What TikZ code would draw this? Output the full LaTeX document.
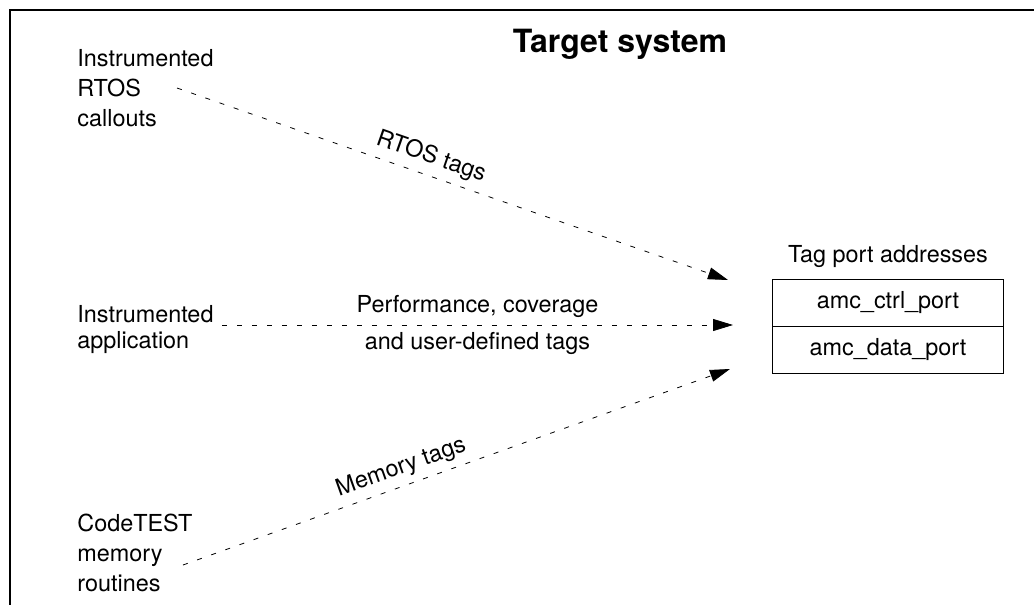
\documentclass[tikz,border=0pt]{standalone}
\usepackage{fontspec}
\setmainfont{TeX Gyre Heros}
\usetikzlibrary{arrows.meta}

\begin{document}
\begin{tikzpicture}[x=0.5pt,y=-0.5pt,
  lbl/.style={font=\fontsize{11.7}{15}\selectfont,align=left,anchor=west,inner sep=0pt},
  port/.style={draw,minimum width=115.5pt,minimum height=23.25pt,inner sep=0pt,font=\fontsize{11.7}{14}\selectfont},
  tag/.style={thin,dash pattern=on 2.5pt off 5pt,-{Triangle[length=10pt,width=6pt]}}]
  \useasboundingbox (0,0) rectangle (1034,605);
  \draw[line width=1pt] (1034,10) -- (10,10) -- (10,605);

  \node[font=\bfseries\fontsize{16}{19}\selectfont] (t) at (620,44) {Target system};

  \node[lbl] (1) at (77,88) {Instrumented\\RTOS\\callouts};
  \node[lbl,font=\fontsize{11.7}{13}\selectfont] (2) at (77,330) {Instrumented\\application};
  \node[lbl] (3) at (77,553) {CodeTEST\\memory\\routines};

  \node[font=\fontsize{11.7}{14}\selectfont] (6) at (888,257) {Tag port addresses};
  \node[port] (4) at (888,303) {amc\_ctrl\_port};
  \node[port] (5) at (888,350) {amc\_data\_port};

  \coordinate (a) at (177,88);
  \coordinate (b) at (728,280);
  \coordinate (c) at (222,325);
  \coordinate (d) at (733,325);
  \coordinate (e) at (183,565);
  \coordinate (f) at (730,369);

  \path[every node/.style={font=\fontsize{11.7}{14}\selectfont}]
  (a) [tag] edge node [above,sloped,pos=0.45] {RTOS tags} (b)
  (c) [tag] edge node [above] {Performance, coverage} node [below] {and user-defined tags} (d)
  (e) [tag] edge node [above,sloped,pos=0.41] {Memory tags} (f);
\end{tikzpicture}
\end{document}
